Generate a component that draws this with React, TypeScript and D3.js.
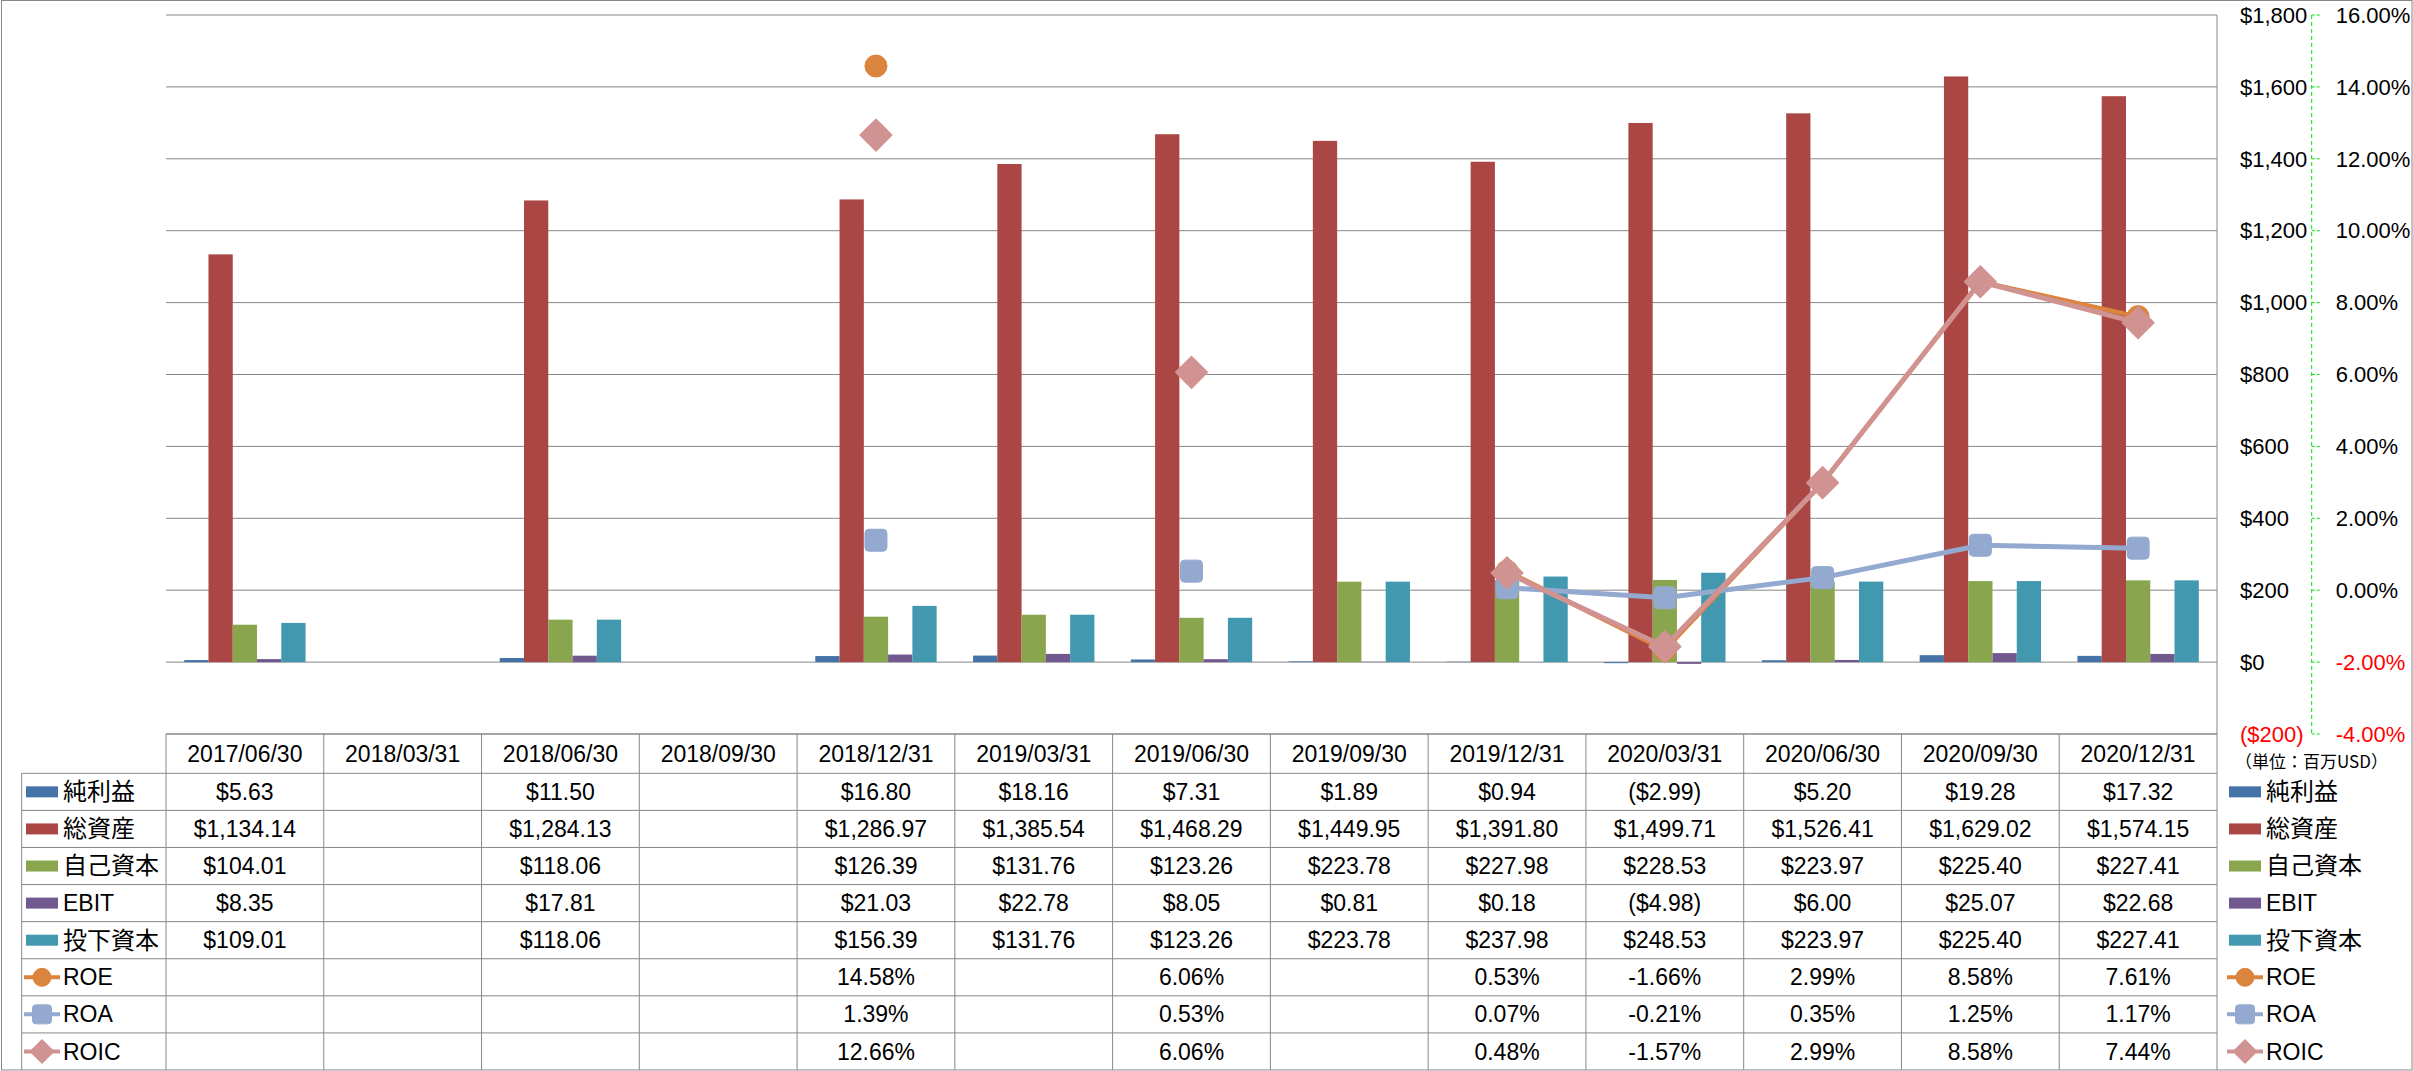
import React from "react";
import * as d3 from "d3";

const categories = [
  "2017/06/30", "2018/03/31", "2018/06/30", "2018/09/30", "2018/12/31", "2019/03/31", "2019/06/30",
  "2019/09/30", "2019/12/31", "2020/03/31", "2020/06/30", "2020/09/30", "2020/12/31",
];
const netIncome = [5.63, null, 11.5, null, 16.8, 18.16, 7.31, 1.89, 0.94, -2.99, 5.2, 19.28, 17.32];
const totalAssets = [1134.14, null, 1284.13, null, 1286.97, 1385.54, 1468.29, 1449.95, 1391.8, 1499.71, 1526.41, 1629.02, 1574.15];
const equity = [104.01, null, 118.06, null, 126.39, 131.76, 123.26, 223.78, 227.98, 228.53, 223.97, 225.4, 227.41];
const ebit = [8.35, null, 17.81, null, 21.03, 22.78, 8.05, 0.81, 0.18, -4.98, 6.0, 25.07, 22.68];
const investedCapital = [109.01, null, 118.06, null, 156.39, 131.76, 123.26, 223.78, 237.98, 248.53, 223.97, 225.4, 227.41];
const roe = [null, null, null, null, 14.58, null, 6.06, null, 0.53, -1.66, 2.99, 8.58, 7.61];
const roa = [null, null, null, null, 1.39, null, 0.53, null, 0.07, -0.21, 0.35, 1.25, 1.17];
const roic = [null, null, null, null, 12.66, null, 6.06, null, 0.48, -1.57, 2.99, 8.58, 7.44];

const barNames = ["純利益", "総資産", "自己資本", "EBIT", "投下資本"];
const barColors = ["#4572A7", "#AA4643", "#89A54E", "#71588F", "#4198AF"];
const lineNames = ["ROE", "ROA", "ROIC"];
const lineColors = ["#DB843D", "#93A9CF", "#D19392"];
const lineMarkers = ["circle", "square", "diamond"];
const unitLabel = "（単位：百万USD）";

const W = 2413;
const H = 1071;
const plotL = 166;
const plotR = 2217;
const plotT = 15;
const plotB = 734;
const tableB = 1070;
const legendL = 21.7;
const headerB = 773.3;
const GRID = "#878787";
const FONT = '"Liberation Sans", "Noto Sans CJK JP", sans-serif';
const CJK = '"Noto Sans CJK JP", sans-serif';

const hasCJK = (s: string) => /[^\x00-\x7F]/.test(s);
const fixMinus = (s: string) => s.replace(/\u2212/g, "-");
const money = (v: number | null) => {
  if (v == null) return "";
  const f = d3.format(",.2f");
  return v < 0 ? `($${f(-v)})` : `$${f(v)}`;
};
const pct = (v: number | null) => (v == null ? "" : fixMinus(`${d3.format(".2f")(v)}%`));
const axisMoney = (v: number) => {
  const f = d3.format(",");
  return v < 0 ? `($${f(-v)})` : `$${f(v)}`;
};

function Marker({ type, x, y, color, s }: { type: string; x: number; y: number; color: string; s: number }) {
  if (type === "circle") return <circle cx={x} cy={y} r={s * 0.5} fill={color} stroke={color} strokeWidth={1} />;
  if (type === "square")
    return <rect x={x - s * 0.5} y={y - s * 0.5} width={s} height={s} rx={s * 0.18} fill={color} stroke={color} strokeWidth={1} />;
  const h = s * 0.72;
  return (
    <path
      d={`M${x},${y - h}L${x + h},${y}L${x},${y + h}L${x - h},${y}Z`}
      fill={color}
      stroke={color}
      strokeWidth={1.5}
      strokeLinejoin="round"
    />
  );
}

export default function App() {
  const barValues = [netIncome, totalAssets, equity, ebit, investedCapital];
  const lineValues = [roe, roa, roic];

  const x = d3.scaleBand<string>().domain(categories).range([plotL, plotR]).padding(0);
  const inner = d3.scaleBand<string>().domain(barNames).range([0, x.bandwidth()]).paddingInner(0).paddingOuter(0.75);
  const yL = d3.scaleLinear().domain([-200, 1800]).range([plotB, plotT]);
  const yR = d3.scaleLinear().domain([-4, 16]).range([plotB, plotT]);
  const leftTicks = yL.ticks(10);
  const rightTicks = yR.ticks(10);

  const rows = [
    ...barNames.map((n, i) => ({ name: n, kind: "bar", idx: i, cells: barValues[i].map(money) })),
    ...lineNames.map((n, i) => ({ name: n, kind: "line", idx: i, cells: lineValues[i].map(pct) })),
  ];
  const rowH = (tableB - headerB) / rows.length;
  const cx = (c: string) => (x(c) as number) + x.bandwidth() / 2;

  const lineGen = d3
    .line<number | null>()
    .defined((d) => d != null)
    .x((_, i) => cx(categories[i]))
    .y((d) => yR(d as number));

  const legendKey = (r: (typeof rows)[number], kx: number, ky: number) => {
    if (r.kind === "bar") return <rect x={kx} y={ky - 5.5} width={32} height={11} fill={barColors[r.idx]} />;
    return (
      <g>
        <line x1={kx - 2} x2={kx + 34} y1={ky} y2={ky} stroke={lineColors[r.idx]} strokeWidth={4} />
        <Marker type={lineMarkers[r.idx]} x={kx + 16} y={ky} color={lineColors[r.idx]} s={r.idx === 0 ? 18 : r.idx === 1 ? 19 : 16} />
      </g>
    );
  };

  return (
    <svg width={W} height={H} style={{ position: "absolute", left: 0, top: 0, display: "block" }} fontFamily={FONT}>
      <rect x={0} y={0} width={W} height={H} fill="#fff" />
      {leftTicks.map((t) => (
        <line key={t} x1={plotL} x2={plotR} y1={yL(t)} y2={yL(t)} stroke={GRID} strokeWidth={1} />
      ))}
      {barValues.map((vals, si) =>
        vals.map((v, ci) =>
          v == null ? null : (
            <rect
              key={`${si}-${ci}`}
              x={(x(categories[ci]) as number) + (inner(barNames[si]) as number)}
              y={Math.min(yL(v), yL(0))}
              width={inner.bandwidth()}
              height={Math.abs(yL(v) - yL(0))}
              fill={barColors[si]}
            />
          )
        )
      )}
      {lineValues.map((vals, li) => (
        <path key={li} d={lineGen(vals) || ""} fill="none" stroke={lineColors[li]} strokeWidth={li === 0 ? 4.5 : 5} strokeLinejoin="round" />
      ))}
      {lineValues.map((vals, li) =>
        vals.map((v, ci) =>
          v == null ? null : (
            <Marker key={`${li}-${ci}`} type={lineMarkers[li]} x={cx(categories[ci])} y={yR(v)} color={lineColors[li]} s={22} />
          )
        )
      )}
      <line x1={plotR} x2={plotR} y1={plotT} y2={tableB} stroke={GRID} strokeWidth={1} />
      {leftTicks.map((t) => (
        <text key={t} x={2240} y={yL(t)} dy="0.35em" fontSize={22} fill={t < 0 ? "#FF0000" : "#000"}>
          {axisMoney(t)}
        </text>
      ))}
      <line x1={2311.7} x2={2311.7} y1={plotT} y2={plotB} stroke="#00E000" strokeWidth={1} strokeDasharray="4,3" />
      {rightTicks.map((t) => (
        <g key={t}>
          <line x1={2311.7} x2={2320} y1={yR(t)} y2={yR(t)} stroke="#00E000" strokeWidth={1} strokeDasharray="3,2" />
          <text x={2335.7} y={yR(t)} dy="0.35em" fontSize={22} fill={t < 0 ? "#FF0000" : "#000"}>
            {pct(t)}
          </text>
        </g>
      ))}
      <text x={2235} y={762} dy="0.35em" fontSize={17} fontFamily={CJK}>
        {unitLabel}
      </text>
      <line x1={plotL} x2={plotR} y1={plotB} y2={plotB} stroke={GRID} strokeWidth={1} />
      {rows.map((_, ri) => (
        <line key={ri} x1={legendL} x2={plotR} y1={headerB + ri * rowH} y2={headerB + ri * rowH} stroke={GRID} strokeWidth={1} />
      ))}
      <line x1={legendL} x2={legendL} y1={headerB} y2={tableB} stroke={GRID} strokeWidth={1} />
      {categories.map((c) => (
        <line key={c} x1={x(c)} x2={x(c)} y1={plotB} y2={tableB} stroke={GRID} strokeWidth={1} />
      ))}
      {categories.map((c) => (
        <text key={c} x={cx(c)} y={(plotB + headerB) / 2} dy="0.35em" textAnchor="middle" fontSize={23}>
          {c}
        </text>
      ))}
      {rows.map((r, ri) => {
        const yc = headerB + (ri + 0.5) * rowH;
        return (
          <g key={r.name}>
            {legendKey(r, 26, yc)}
            <text x={63} y={yc} dy="0.35em" fontSize={hasCJK(r.name) ? 24 : 23} fontFamily={hasCJK(r.name) ? CJK : FONT}>
              {r.name}
            </text>
            {legendKey(r, 2229, yc)}
            <text x={2266} y={yc} dy="0.35em" fontSize={hasCJK(r.name) ? 24 : 23} fontFamily={hasCJK(r.name) ? CJK : FONT}>
              {r.name}
            </text>
            {r.cells.map((s, ci) => (
              <text key={ci} x={cx(categories[ci])} y={yc} dy="0.35em" textAnchor="middle" fontSize={23}>
                {s}
              </text>
            ))}
          </g>
        );
      })}
      <rect x={1.5} y={0.5} width={2410.5} height={1069.5} fill="none" stroke={GRID} strokeWidth={1} />
    </svg>
  );
}
